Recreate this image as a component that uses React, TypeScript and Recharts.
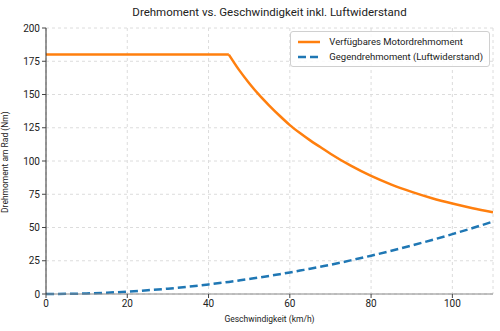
import { LineChart, Line, XAxis, YAxis, CartesianGrid } from "recharts"

// speed in km/h
const speeds = [0, 5, 10, 15, 20, 25, 30, 35, 40, 45, 47.5, 50, 52.5, 55, 57.5, 60, 62.5, 65, 67.5, 70, 75, 80, 85, 90, 95, 100, 105, 110]
// available motor torque at the wheel (Nm)
const motorTorque = [180, 180, 180, 180, 180, 180, 180, 180, 180, 180, 168.5, 158.5, 149.5, 141.5, 134, 127, 121, 115.5, 110.5, 105.5, 96.5, 88.8, 82.3, 76.8, 72, 68, 64.5, 61.5]
// counter torque from air drag (Nm)
const dragTorque = [0, 0.1, 0.45, 1.0, 1.8, 2.8, 4.0, 5.5, 7.2, 9.1, 10.2, 11.3, 12.4, 13.6, 14.9, 16.2, 17.6, 19.0, 20.5, 22.0, 25.3, 28.8, 32.5, 36.5, 40.6, 45.0, 49.6, 54.5]

const xTicks = [0, 20, 40, 60, 80, 100]
const yTicks = [0, 25, 50, 75, 100, 125, 150, 175, 200]

const seriesNames = ["Verfügbares Motordrehmoment", "Gegendrehmoment (Luftwiderstand)"]
const ORANGE = "#ff7f0e"
const BLUE = "#1f77b4"
const FONT = "Roboto, 'Open Sans', sans-serif"
const KNEE = 45

// flat part and falling part of the motor curve drawn separately so the knee stays sharp
const data = speeds.map((v, i) => ({
  v,
  flat: v <= KNEE ? motorTorque[i] : null,
  fall: v >= KNEE ? motorTorque[i] : null,
  drag: dragTorque[i],
}))

function LegendBox() {
  return (
    <div
      style={{
        position: "absolute",
        top: 31,
        right: 10,
        border: "1px solid #d0d0d0",
        borderRadius: 3,
        background: "rgba(255,255,255,0.85)",
        padding: "2px 6px 2px 7px",
        fontFamily: FONT,
        fontSize: 9.5,
        color: "#222",
        lineHeight: "15px",
      }}
    >
      <div style={{ display: "flex", alignItems: "center" }}>
        <svg width={22} height={6} style={{ marginRight: 9 }}>
          <line x1={0} y1={3} x2={22} y2={3} stroke={ORANGE} strokeWidth={2.5} />
        </svg>
        {seriesNames[0]}
      </div>
      <div style={{ display: "flex", alignItems: "center" }}>
        <svg width={22} height={6} style={{ marginRight: 9 }}>
          <line x1={0} y1={3} x2={22} y2={3} stroke={BLUE} strokeWidth={2.5} strokeDasharray="8 4" />
        </svg>
        {seriesNames[1]}
      </div>
    </div>
  )
}

export default function App() {
  return (
    <div style={{ position: "absolute", left: 0, top: 0, width: 500, height: 331, background: "#fff" }}>
      <div
        style={{
          position: "absolute",
          top: 5,
          left: 46,
          width: 447,
          textAlign: "center",
          fontFamily: FONT,
          fontSize: 11.5,
          color: "#222",
        }}
      >
        Drehmoment vs. Geschwindigkeit inkl. Luftwiderstand
      </div>
      <LineChart width={500} height={331} data={data} margin={{ top: 28, right: 7, bottom: 0, left: 0 }}>
        <CartesianGrid stroke="#dcdcdc" strokeDasharray="3 3" />
        <XAxis
          xAxisId="top"
          orientation="top"
          dataKey="v"
          type="number"
          domain={[0, 110]}
          allowDataOverflow
          tick={false}
          tickLine={false}
          height={0}
          axisLine={{ stroke: "#777" }}
        />
        <YAxis
          yAxisId="right"
          orientation="right"
          domain={[0, 200]}
          tick={false}
          tickLine={false}
          width={0}
          axisLine={{ stroke: "#555" }}
        />
        <XAxis
          dataKey="v"
          type="number"
          domain={[0, 110]}
          ticks={xTicks}
          allowDataOverflow
          height={37}
          tickSize={4}
          tick={{ fontSize: 10, fill: "#222", fontFamily: FONT }}
          axisLine={{ stroke: "#888" }}
          tickLine={{ stroke: "#444" }}
          label={{ value: "Geschwindigkeit (km/h)", position: "insideBottom", offset: 9, fontSize: 8.5, fill: "#222", fontFamily: FONT }}
        />
        <YAxis
          domain={[0, 200]}
          ticks={yTicks}
          width={46}
          tickSize={4}
          tick={{ fontSize: 10, fill: "#222", fontFamily: FONT }}
          axisLine={{ stroke: "#333" }}
          tickLine={{ stroke: "#444" }}
          label={{ value: "Drehmoment am Rad (Nm)", angle: -90, position: "insideLeft", offset: 5, dy: 52, fontSize: 8.5, fill: "#222", fontFamily: FONT }}
        />
        <Line
          type="linear"
          dataKey="flat"
          name={seriesNames[0]}
          stroke={ORANGE}
          strokeWidth={2.5}
          dot={false}
          connectNulls={false}
          isAnimationActive={false}
        />
        <Line
          type="monotone"
          dataKey="fall"
          name={seriesNames[0]}
          stroke={ORANGE}
          strokeWidth={2.5}
          dot={false}
          connectNulls={false}
          isAnimationActive={false}
        />
        <Line
          type="monotone"
          dataKey="drag"
          name={seriesNames[1]}
          stroke={BLUE}
          strokeWidth={2.5}
          strokeDasharray="8 4"
          dot={false}
          isAnimationActive={false}
        />
      </LineChart>
      <LegendBox />
    </div>
  )
}
